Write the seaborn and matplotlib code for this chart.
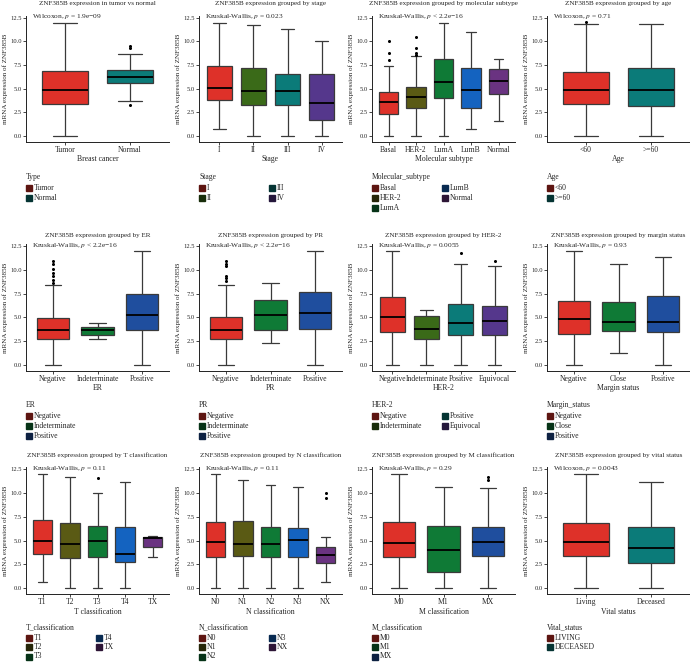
import pandas as pd
import matplotlib.pyplot as plt
import matplotlib.colors as mcolors
from matplotlib.lines import Line2D
import seaborn as sns

sns.set_theme(style="ticks")
plt.rcParams["font.family"] = ["Liberation Serif", "DejaVu Serif"]
plt.rcParams["mathtext.fontset"] = "stix"

# ---- data: per group [lower whisker, Q1, median, Q3, upper whisker] ----
type_groups = ["Tumor", "Normal"]
type_stats = [[0.0, 3.32, 4.84, 6.85, 12.0], [3.7, 5.58, 6.18, 6.96, 8.7]]
type_out = [("Normal", 9.5), ("Normal", 9.25), ("Normal", 3.25)]

stage_groups = ["I", "II", "III", "IV"]
stage_stats = [[0.7, 3.74, 5.05, 7.34, 12.0], [0.0, 3.21, 4.7, 7.13, 11.76],
               [0.0, 3.25, 4.77, 6.57, 11.26], [0.0, 1.62, 3.43, 6.57, 10.0]]
stage_out = []

mol_groups = ["Basal", "HER-2", "LumA", "LumB", "Normal"]
mol_stats = [[0.0, 2.3, 3.53, 4.59, 7.4], [0.0, 2.97, 4.06, 5.19, 8.4],
             [0.0, 3.99, 5.65, 8.09, 12.0], [0.7, 2.9, 4.87, 7.2, 10.95],
             [1.52, 4.38, 5.76, 7.03, 8.16]]
mol_out = [("Basal", 8.0), ("Basal", 8.75), ("Basal", 10.0),
           ("HER-2", 8.6), ("HER-2", 8.8), ("HER-2", 9.3), ("HER-2", 10.5)]

age_groups = ["<60", ">=60"]
age_stats = [[0.0, 3.35, 4.8, 6.71, 11.8], [0.0, 3.18, 4.9, 7.13, 11.8]]
age_out = [("<60", 12.1)]

er_groups = ["Negative", "Indeterminate", "Positive"]
er_stats = [[0.0, 2.67, 3.62, 4.92, 8.4], [2.67, 3.16, 3.62, 4.0, 4.42],
            [0.0, 3.62, 5.27, 7.41, 11.97]]
er_out = [("Negative", 8.64), ("Negative", 8.88), ("Negative", 9.34), ("Negative", 9.69),
          ("Negative", 10.04), ("Negative", 10.57), ("Negative", 10.92)]

pr_groups = ["Negative", "Indeterminate", "Positive"]
pr_stats = [[0.0, 2.67, 3.69, 5.06, 8.45], [2.32, 3.69, 5.2, 6.78, 8.64],
            [0.0, 3.79, 5.48, 7.65, 11.97]]
pr_out = [("Negative", 8.81), ("Negative", 9.16), ("Negative", 9.34),
          ("Negative", 10.39), ("Negative", 10.64), ("Negative", 10.92)]

her2_groups = ["Negative", "Indeterminate", "Positive", "Equivocal"]
her2_stats = [[0.0, 3.44, 4.99, 7.13, 11.97], [0.0, 2.67, 3.79, 5.13, 5.72],
              [0.0, 3.09, 4.39, 6.43, 10.64], [0.0, 3.09, 4.56, 6.14, 10.39]]
her2_out = [("Positive", 11.73), ("Equivocal", 10.92)]

margin_groups = ["Negative", "Close", "Positive"]
margin_stats = [[0.0, 3.27, 4.78, 6.74, 11.97], [1.26, 3.55, 4.53, 6.57, 10.57],
                [0.0, 3.44, 4.53, 7.27, 11.38]]
margin_out = []

t_groups = ["T1", "T2", "T3", "T4", "TX"]
t_stats = [[0.67, 3.62, 4.92, 7.16, 12.0], [0.0, 3.2, 4.63, 6.81, 11.66],
           [0.0, 3.23, 4.99, 6.53, 10.04], [0.0, 2.77, 3.55, 6.46, 11.2],
           [3.23, 4.28, 5.3, 5.41, 5.5]]
t_out = [("T3", 11.55)]

n_groups = ["N0", "N1", "N2", "N3", "NX"]
n_stats = [[0.0, 3.23, 4.81, 6.99, 11.97], [0.0, 3.37, 4.6, 7.06, 11.34],
           [0.0, 3.23, 4.63, 6.39, 10.85], [0.0, 3.23, 5.06, 6.29, 10.67],
           [0.67, 2.67, 3.48, 4.28, 5.41]]
n_out = [("NX", 9.45), ("NX", 9.97)]

m_groups = ["M0", "M1", "MX"]
m_stats = [[0.0, 3.3, 4.74, 6.99, 11.97], [0.0, 1.69, 4.0, 6.57, 10.67],
           [0.0, 3.41, 4.85, 6.46, 10.5]]
m_out = [("MX", 11.38), ("MX", 11.66)]

vital_groups = ["Living", "Deceased"]
vital_stats = [[0.0, 3.41, 4.81, 6.88, 11.97], [0.0, 2.67, 4.18, 6.43, 11.2]]
vital_out = []

# ---- colours ----
RED, TEAL, DGREEN, PURPLE = "#DE3129", "#0B7B79", "#3A6A18", "#55378C"
OLIVE, GREEN, BLUE, NAVY, VIOLET = "#5A5A14", "#0F7A36", "#1463C0", "#1F4E9E", "#6A3381"

panels = [
    ("ZNF385B expression in tumor vs normal", "Breast cancer", type_groups, type_stats, type_out,
     [RED, TEAL], "Wilcoxon", "= 1.9e\u221209", "Type", ["Tumor", "Normal"]),
    ("ZNF385B expression grouped by stage", "Stage", stage_groups, stage_stats, stage_out,
     [RED, DGREEN, TEAL, PURPLE], "Kruskal-Wallis", "= 0.023", "Stage", stage_groups),
    ("ZNF385B expression grouped by molecular subtype", "Molecular subtype", mol_groups, mol_stats, mol_out,
     [RED, OLIVE, GREEN, BLUE, VIOLET], "Kruskal-Wallis", "< 2.2e\u221216", "Molecular_subtype", mol_groups),
    ("ZNF385B expression grouped by age", "Age", age_groups, age_stats, age_out,
     [RED, TEAL], "Wilcoxon", "= 0.71", "Age", age_groups),
    ("ZNF385B expression grouped by ER", "ER", er_groups, er_stats, er_out,
     [RED, GREEN, NAVY], "Kruskal-Wallis", "< 2.2e\u221216", "ER", er_groups),
    ("ZNF385B expression grouped by PR", "PR", pr_groups, pr_stats, pr_out,
     [RED, GREEN, NAVY], "Kruskal-Wallis", "< 2.2e\u221216", "PR", pr_groups),
    ("ZNF385B expression grouped by HER-2", "HER-2", her2_groups, her2_stats, her2_out,
     [RED, DGREEN, TEAL, PURPLE], "Kruskal-Wallis", "= 0.0055", "HER-2", her2_groups),
    ("ZNF385B expression grouped by margin status", "Margin status", margin_groups, margin_stats, margin_out,
     [RED, GREEN, NAVY], "Kruskal-Wallis", "= 0.93", "Margin_status", margin_groups),
    ("ZNF385B expression grouped by T classification", "T classification", t_groups, t_stats, t_out,
     [RED, OLIVE, GREEN, BLUE, VIOLET], "Kruskal-Wallis", "= 0.11", "T_classification", t_groups),
    ("ZNF385B expression grouped by N classification", "N classification", n_groups, n_stats, n_out,
     [RED, OLIVE, GREEN, BLUE, VIOLET], "Kruskal-Wallis", "= 0.11", "N_classification", n_groups),
    ("ZNF385B expression grouped by M classification", "M classification", m_groups, m_stats, m_out,
     [RED, GREEN, NAVY], "Kruskal-Wallis", "= 0.29", "M_classification", m_groups),
    ("ZNF385B expression grouped by vital status", "Vital status", vital_groups, vital_stats, vital_out,
     [RED, TEAL], "Wilcoxon", "= 0.0043", "Vital_status", ["LIVING", "DECEASED"]),
]

# ---- layout (pixels) ----
W, H = 690, 663
col_left = [26, 199, 372, 547]
ax_w = 143
row_top = [15.9, 244.2, 467.4]
row_bot = [141.7, 370.7, 594.0]
title_y = [4, 235, 455]
leg_y = [177, 405, 627]
leg_dy = [10, 10, 9.5]


def fx(px):
    return px / W


def fy(py):
    return 1 - py / H


def dark(c, f=0.42):
    r, g, b = mcolors.to_rgb(c)
    return (r * f, g * f, b * f)


fig = plt.figure(figsize=(W / 100, H / 100), dpi=100)

for k, (title, xlabel, groups, stats, outl, colors, test, pval, ltitle, llabels) in enumerate(panels):
    r, c = divmod(k, 4)
    ax = fig.add_axes([fx(col_left[c]), fy(row_bot[r]), ax_w / W, (row_bot[r] - row_top[r]) / H])

    df = pd.DataFrame([(g, v) for g, s in zip(groups, stats) for v in s], columns=["group", "value"])
    sns.boxplot(data=df, x="group", y="value", hue="group", order=groups, hue_order=groups,
                palette=colors, saturation=1, whis=(0, 100), width=0.72, showfliers=False,
                legend=False, linecolor="#3a3a3a", linewidth=0.9,
                medianprops=dict(color="black", linewidth=1.3), ax=ax)
    if outl:
        od = pd.DataFrame(outl, columns=["group", "value"])
        sns.stripplot(data=od, x="group", y="value", order=groups, jitter=False,
                      color="black", size=2.2, ax=ax)

    ax.set_xlim(-0.6, len(groups) - 0.4)
    ax.set_ylim(-0.63, 12.7)
    ax.set_yticks([0, 2.5, 5, 7.5, 10, 12.5])
    ax.set_yticklabels(["0.0", "2.5", "5.0", "7.5", "10.0", "12.5"])
    sns.despine(ax=ax)
    for sp in ["left", "bottom"]:
        ax.spines[sp].set_linewidth(0.7)
        ax.spines[sp].set_color("#222222")
    ax.tick_params(axis="y", labelsize=4.7, length=2, width=0.6, pad=1)
    ax.tick_params(axis="x", labelsize=5.5, length=2, width=0.6, pad=1)
    ax.set_xlabel(xlabel, fontsize=5.6, labelpad=1)
    ax.set_ylabel("mRNA expression of ZNF385B", fontsize=5.1, labelpad=2)

    ax.text(0.045, 12.6, f"{test}, $p$ {pval}", transform=ax.get_yaxis_transform(),
            fontsize=5.3, ha="left", va="center")
    fig.text(fx(col_left[c] + ax_w / 2), fy(title_y[r]), title, fontsize=5.1, ha="center", va="center")

    # legend below the panel
    x0 = col_left[c]
    ly = leg_y[r]
    fig.text(fx(x0), fy(ly), ltitle, fontsize=5.5, ha="left", va="center")
    nrow = len(llabels) if len(llabels) <= 3 else (len(llabels) + 1) // 2
    for i, (lab, colr) in enumerate(zip(llabels, colors)):
        cc, rr = divmod(i, nrow)
        xm = x0 + 3 + cc * 70
        ym = ly + 10.5 + rr * leg_dy[r]
        fig.add_artist(Line2D([fx(xm)], [fy(ym)], marker="s", markersize=4.3, linestyle="none",
                              color=dark(colr), transform=fig.transFigure))
        fig.text(fx(xm + 5), fy(ym), lab, fontsize=5.5, ha="left", va="center")

fig.savefig("out.png", dpi=100)
